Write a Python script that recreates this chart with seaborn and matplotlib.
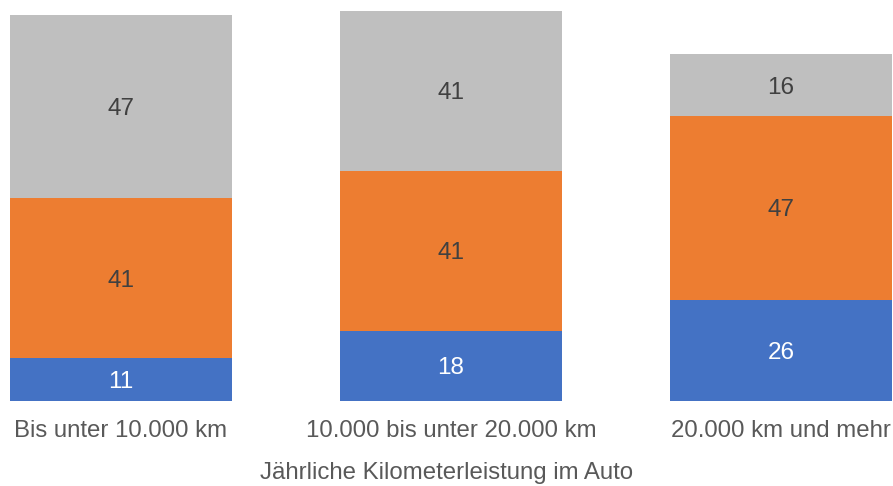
import matplotlib
matplotlib.use("Agg")
import matplotlib.pyplot as plt
import numpy as np
import pandas as pd
import seaborn as sns

categories = ["Bis unter 10.000 km", "10.000 bis unter 20.000 km", "20.000 km und mehr"]
blue_vals = [11, 18, 26]
orange_vals = [41, 41, 47]
gray_vals = [47, 41, 16]

colors = {"blue": "#4472C4", "orange": "#ED7D31", "gray": "#BFBFBF"}

sns.set_theme(style="white")
plt.rcParams["font.family"] = ["Liberation Sans", "DejaVu Sans"]

fig = plt.figure(figsize=(8.93, 4.86), dpi=100)
ax = fig.add_axes([0, 85 / 486, 1, 401 / 486])

df = pd.DataFrame({"cat": categories, "blue": blue_vals,
                   "orange": orange_vals, "gray": gray_vals})
df["c1"] = df["blue"]
df["c2"] = df["c1"] + df["orange"]
df["c3"] = df["c2"] + df["gray"]

# stacked look: draw cumulative totals, tallest first
for col, name in [("c3", "gray"), ("c2", "orange"), ("c1", "blue")]:
    sns.barplot(data=df, x="cat", y=col, color=colors[name], saturation=1,
                width=0.67, ax=ax, linewidth=0)

# segment labels
for i in range(len(categories)):
    bottoms = [0, df["c1"][i], df["c2"][i]]
    vals = [blue_vals[i], orange_vals[i], gray_vals[i]]
    tcol = ["white", "#404040", "#404040"]
    for b, v, c in zip(bottoms, vals, tcol):
        ax.text(i, b + v / 2, str(v), ha="center", va="center_baseline",
                fontsize=17.5, color=c)

ax.set_xlim(-121 / 330, (893 - 121) / 330)
ax.set_ylim(0, 401 / 3.9)
ax.set_yticks([])
ax.set_ylabel("")
ax.tick_params(axis="x", length=0, pad=14, labelsize=17.3, labelcolor="#595959")
ax.set_xlabel("Jährliche Kilometerleistung im Auto", fontsize=17.3,
              color="#595959", labelpad=14)
sns.despine(ax=ax, left=True, bottom=True)

fig.savefig("out.png", dpi=100)
